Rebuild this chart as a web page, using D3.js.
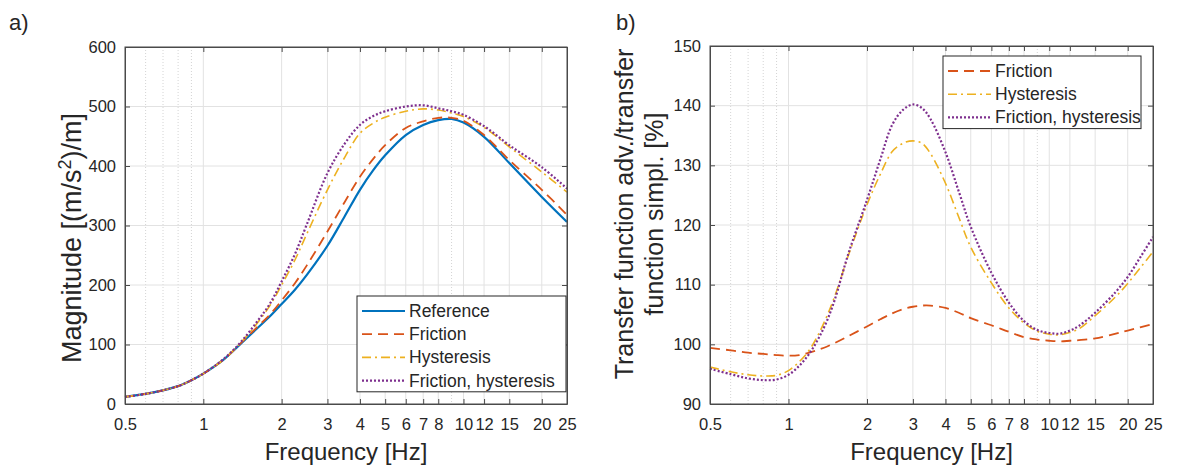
<!DOCTYPE html>
<html>
<head>
<meta charset="utf-8">
<script src="https://cdn.jsdelivr.net/npm/d3@7"></script>
<style>
  body { margin: 0; background: #fff; }
  text { font-family: "Liberation Sans", Arial, sans-serif; fill: #262626; }
</style>
</head>
<body>
<div id="chart"></div>
<script>
// tick labels / grid positions
const freqTicks = [0.5, 1, 2, 3, 4, 5, 6, 7, 8, 10, 12, 15, 20, 25];
const freqMinor = [0.6, 0.7, 0.8, 0.9, 9];
const magTicks = [0, 100, 200, 300, 400, 500, 600];
const pctTicks = [90, 100, 110, 120, 130, 140, 150];

// panel a) magnitude
const freqA = [0.5, 0.6, 0.7, 0.8, 0.9, 1, 1.2, 1.4, 1.6, 1.8, 2, 2.25, 2.5, 3, 3.5, 4, 4.5, 5, 6, 7, 8, 9, 10, 12, 15, 20, 25];
const referenceMag = [12, 17, 23, 30, 40, 51, 75, 102, 126, 147, 168, 192, 217, 266, 316, 360, 393, 418, 452, 469, 477, 479, 473, 449, 405, 348, 306];
const frictionMag = [12, 17, 23, 30, 40, 51, 75, 103, 128, 150, 174, 203, 233, 290, 340, 382, 412, 435, 464, 475, 481, 481, 476, 452, 410, 360, 318];
const hysteresisMag = [12, 17, 23, 30, 40, 51, 75, 104, 134, 165, 200, 242, 286, 360, 415, 455, 472, 482, 492, 496, 494, 489, 483, 465, 432, 390, 356];
const frictionHystMag = [12, 17, 23, 30, 40, 51, 76, 105, 137, 168, 206, 252, 302, 388, 438, 469, 484, 492, 500, 502, 497, 492, 486, 467, 435, 398, 362];

// panel b) ratio adv./simpl. in %
const freqB = [0.5, 0.6, 0.7, 0.8, 0.9, 1, 1.1, 1.2, 1.3, 1.4, 1.5, 1.7, 2, 2.25, 2.5, 2.75, 3, 3.25, 3.5, 4, 4.5, 5, 6, 7, 8, 9, 10, 11, 12, 13, 15, 18, 20, 22.5, 25];
const frictionPct = [99.4, 99.0, 98.6, 98.4, 98.2, 98.1, 98.2, 98.6, 99.1, 99.6, 100.2, 101.4, 103.0, 104.2, 105.2, 105.9, 106.3, 106.5, 106.5, 106.1, 105.3, 104.4, 103.2, 102.1, 101.2, 100.8, 100.6, 100.5, 100.6, 100.7, 101.0, 101.8, 102.3, 102.9, 103.4];
const hysteresisPct = [96.2, 95.4, 94.9, 94.7, 94.8, 95.6, 97.1, 99.0, 101.6, 104.6, 107.9, 115.0, 123.4, 128.5, 132.3, 133.7, 134.1, 133.7, 132.0, 127.0, 121.3, 116.3, 110.3, 106.1, 103.6, 102.2, 101.7, 101.6, 102.0, 102.6, 104.8, 108.0, 110.2, 113.0, 115.5];
const frictionHystPct = [95.9, 95.0, 94.3, 94.0, 94.1, 94.9, 96.4, 98.4, 100.9, 103.8, 107.3, 115.3, 124.2, 131.0, 136.8, 139.3, 140.2, 139.6, 137.8, 132.2, 125.6, 119.7, 112.0, 107.0, 103.9, 102.4, 101.9, 101.8, 102.3, 103.1, 105.3, 108.8, 111.3, 114.8, 118.0];

const styles = {
  'Reference': { color: '#0072BD', dash: null, width: 2.2 },
  'Friction': { color: '#D95319', dash: '10,6', width: 1.8 },
  'Hysteresis': { color: '#EDB120', dash: '9,4,2,4', width: 1.6 },
  'Friction, hysteresis': { color: '#7E2F8E', dash: '2,2', width: 2.2 }
};

const svg = d3.select('#chart')
      .append('svg')
      .attr('width', 1193)
      .attr('height', 466);

const drawPanel = (opts) => {
  const { left, right, top, bottom } = opts;
  const x = d3.scaleLog().domain([0.5, 25]).range([left, right]);
  const y = d3.scaleLinear().domain(opts.yDomain).range([bottom, top]);
  const g = svg.append('g');

  // grid
  g.append('g').selectAll('line').data(freqTicks.slice(1, -1)).join('line')
    .attr('x1', x).attr('x2', x).attr('y1', top).attr('y2', bottom)
    .attr('stroke', '#e2e2e2').attr('stroke-width', 1);
  g.append('g').selectAll('line').data(freqMinor).join('line')
    .attr('x1', x).attr('x2', x).attr('y1', top).attr('y2', bottom)
    .attr('stroke', '#d4d4d4').attr('stroke-width', 1).attr('stroke-dasharray', '1,2');
  g.append('g').selectAll('line').data(opts.yTicks.slice(1, -1)).join('line')
    .attr('x1', left).attr('x2', right).attr('y1', y).attr('y2', y)
    .attr('stroke', '#e2e2e2').attr('stroke-width', 1);

  // curves
  const line = d3.line()
        .x((d) => x(d[0]))
        .y((d) => y(d[1]))
        .curve(d3.curveCatmullRom.alpha(0.5));
  opts.series.forEach(([name, values]) => {
    const s = styles[name];
    g.append('path')
      .datum(opts.freq.map((f, i) => [f, values[i]]))
      .attr('d', line)
      .attr('fill', 'none')
      .attr('stroke', s.color)
      .attr('stroke-width', s.width)
      .attr('stroke-dasharray', s.dash);
  });

  // axes with inward ticks (box style)
  const tickIn = 5;
  const axisColor = '#4a4a4a';
  const axX = d3.axisBottom(x).tickValues(freqTicks).tickFormat(d3.format('~g')).tickSizeInner(-tickIn).tickSizeOuter(0).tickPadding(14);
  const axY = d3.axisLeft(y).tickValues(opts.yTicks).tickSizeInner(-tickIn).tickSizeOuter(0).tickPadding(9);
  const gx = g.append('g').attr('transform', `translate(0,${bottom})`).call(axX);
  const gy = g.append('g').attr('transform', `translate(${left},0)`).call(axY);
  g.append('g').attr('transform', `translate(0,${top})`)
    .call(d3.axisTop(x).tickValues(freqTicks).tickFormat('').tickSizeInner(-tickIn).tickSizeOuter(0));
  g.append('g').attr('transform', `translate(${right},0)`)
    .call(d3.axisRight(y).tickValues(opts.yTicks).tickFormat('').tickSizeInner(-tickIn).tickSizeOuter(0));
  g.selectAll('.domain').attr('stroke', axisColor);
  g.selectAll('.tick line').attr('stroke', axisColor);
  [gx, gy].forEach((a) => a.selectAll('.tick text')
                   .style('font-family', '"Liberation Sans", Arial, sans-serif')
                   .style('font-size', '16.5px')
                   .attr('fill', '#262626'));
  g.append('rect')
    .attr('x', left).attr('y', top)
    .attr('width', right - left).attr('height', bottom - top)
    .attr('fill', 'none').attr('stroke', axisColor).attr('stroke-width', 1);

  // x label
  g.append('text')
    .attr('x', (left + right) / 2).attr('y', bottom + 56)
    .attr('text-anchor', 'middle')
    .style('font-size', '24px')
    .text('Frequency [Hz]');

  // y label (one or more lines)
  const yl = g.append('text')
        .attr('transform', `translate(${opts.yLabelX},${opts.yLabelY}) rotate(-90)`)
        .attr('text-anchor', 'middle')
        .style('font-size', opts.yLabelSize);
  opts.yLabel(yl);

  // panel letter
  g.append('text')
    .attr('x', opts.letterX).attr('y', 30)
    .style('font-size', '22px')
    .attr('fill', '#000')
    .text(opts.letter);

  // legend
  const lg = opts.legend;
  const names = opts.series.map(R => R[0]);
  const lgH = names.length * 23.2 + 3;
  const lgg = g.append('g');
  lgg.append('rect')
    .attr('x', lg.x).attr('y', lg.y)
    .attr('width', lg.w).attr('height', lgH)
    .attr('fill', '#fff').attr('stroke', '#262626').attr('stroke-width', 1);
  names.forEach((name, i) => {
    const s = styles[name];
    const cy = lg.y + 15 + i * 23.2;
    lgg.append('line')
      .attr('x1', lg.x + 5).attr('x2', lg.x + 48)
      .attr('y1', cy).attr('y2', cy)
      .attr('stroke', s.color)
      .attr('stroke-width', s.width)
      .attr('stroke-dasharray', s.dash);
    lgg.append('text')
      .attr('x', lg.x + 52).attr('y', cy + 6)
      .style('font-size', '17.5px')
      .text(name);
  });
};

drawPanel({
  left: 125, right: 567, top: 47, bottom: 404,
  yDomain: [0, 600], yTicks: magTicks,
  freq: freqA,
  series: [['Reference', referenceMag], ['Friction', frictionMag],
           ['Hysteresis', hysteresisMag], ['Friction, hysteresis', frictionHystMag]],
  yLabelX: 81, yLabelY: 238, yLabelSize: '27px',
  yLabel: (t) => {
    t.append('tspan').text('Magnitude [(m/s');
    t.append('tspan').attr('dy', -10).style('font-size', '18px').text('2');
    t.append('tspan').attr('dy', 10).text(')/m]');
  },
  letter: 'a)', letterX: 9,
  legend: { x: 357, y: 296, w: 209 }
});

drawPanel({
  left: 710, right: 1153, top: 46, bottom: 404,
  yDomain: [90, 150], yTicks: pctTicks,
  freq: freqB,
  series: [['Friction', frictionPct], ['Hysteresis', hysteresisPct],
           ['Friction, hysteresis', frictionHystPct]],
  yLabelX: 633, yLabelY: 214, yLabelSize: '25px',
  yLabel: (t) => {
    t.append('tspan').attr('x', 0).attr('dy', 0).text('Transfer function adv./transfer');
    t.append('tspan').attr('x', 0).attr('dy', 30).text('function simpl. [%]');
  },
  letter: 'b)', letterX: 616,
  legend: { x: 943, y: 56, w: 198 }
});
</script>
</body>
</html>
